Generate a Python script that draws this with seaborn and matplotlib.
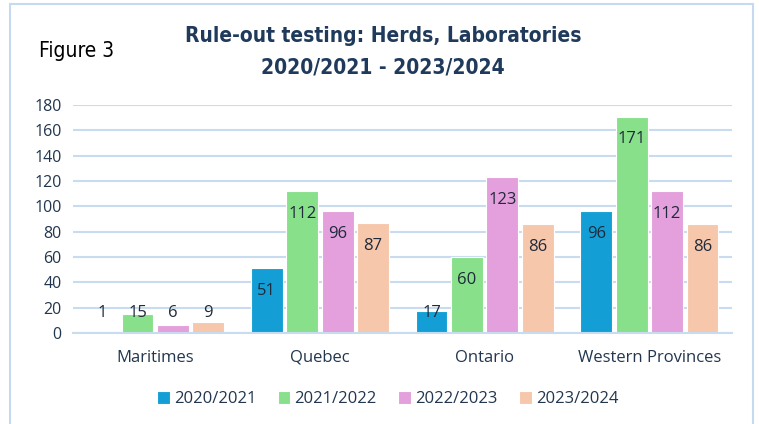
import pandas as pd
import seaborn as sns
import matplotlib.pyplot as plt
from matplotlib.patches import Rectangle

# Data
regions = ['Maritimes', 'Quebec', 'Ontario', 'Western Provinces']
years = ['2020/2021', '2021/2022', '2022/2023', '2023/2024']
y2020 = [1, 51, 17, 96]
y2021 = [15, 112, 60, 171]
y2022 = [6, 96, 123, 112]
y2023 = [9, 87, 86, 86]

colors = ['#139fd6', '#88e08b', '#e3a0dc', '#f6c7ab']
text_col = '#22364f'

rows = []
for yr, vals in zip(years, [y2020, y2021, y2022, y2023]):
    for reg, v in zip(regions, vals):
        rows.append({'region': reg, 'year': yr, 'value': v})
df = pd.DataFrame(rows)

sns.set_theme(style='white')
plt.rcParams['font.family'] = ['Open Sans', 'DejaVu Sans']

fig = plt.figure(figsize=(7.59, 4.24), dpi=100)
ax = fig.add_axes([0.096, 0.2146, 0.868, 0.5375])

sns.barplot(data=df, x='region', y='value', hue='year', palette=colors,
            width=0.86, gap=0.1, ax=ax, legend=True, saturation=1,
            edgecolor='white', linewidth=0.8)

ax.set_ylim(0, 180)
ax.set_yticks(range(0, 181, 20))
ax.grid(axis='y', color='#c9dcef', linewidth=1.5)
ax.set_axisbelow(True)
for s in ['top', 'right', 'left']:
    ax.spines[s].set_visible(False)
ax.spines['bottom'].set_color('#c9dcef')
ax.spines['bottom'].set_linewidth(1.5)
ax.set_xlabel('')
ax.set_ylabel('')
ax.tick_params(axis='y', length=0, labelsize=11.5, colors=text_col, pad=8)
ax.tick_params(axis='x', length=0, labelsize=12, colors=text_col, pad=12)
ax.set_xlim(-0.5, 3.5)

# data labels
for cont in ax.containers:
    for bar, v in zip(cont, cont.datavalues):
        x = bar.get_x() + bar.get_width() / 2
        ax.text(x, max(v - 18, 15.5), f'{int(v)}', ha='center', va='center',
                fontsize=12, color='#1f2a3a')

leg = ax.legend(loc='upper center', bbox_to_anchor=(0.478, -0.19), ncol=4,
                frameon=False, fontsize=12, handlelength=0.75, handleheight=0.75,
                handletextpad=0.25, columnspacing=1.3)
for t in leg.get_texts():
    t.set_color(text_col)

# chart border
fig.patches.append(Rectangle((10 / 759, -0.01), 743 / 759, 1 - 4 / 424 + 0.01,
                             transform=fig.transFigure, fill=False,
                             edgecolor='#c5daf0', linewidth=1.5))

fig.text(0.505, 0.915, 'Rule-out testing: Herds, Laboratories',
         ha='center', va='center', fontsize=15, fontweight='bold',
         fontstretch='condensed', color='#1f3a5a', family='DejaVu Sans')
fig.text(0.505, 0.84, '2020/2021 - 2023/2024',
         ha='center', va='center', fontsize=15, fontweight='bold',
         fontstretch='condensed', color='#1f3a5a', family='DejaVu Sans')
fig.text(0.052, 0.88, 'Figure 3', ha='left', va='center', fontsize=15,
         fontstretch='condensed', color='black', family='DejaVu Sans')

fig.savefig('out.png', dpi=100)
